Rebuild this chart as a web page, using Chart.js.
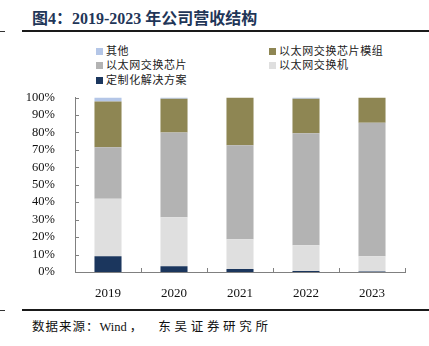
<!DOCTYPE html>
<html>
<head>
<meta charset="utf-8">
<script src="https://cdn.jsdelivr.net/npm/chart.js@4.4.1/dist/chart.umd.min.js"></script>
<style>
  html, body { margin: 0; padding: 0; background: #fff; }
  body { width: 429px; height: 346px; position: relative; overflow: hidden; }
  .title {
    position: absolute; left: 32px; top: 5px;
    font: bold 16px "Liberation Serif", "Noto Sans CJK SC", serif;
    color: #1f3658; white-space: nowrap;
  }
  .rule { position: absolute; left: 22px; right: 0; height: 2px; background: #1a1a1a; }
  .dash { position: absolute; left: 0; width: 5px; height: 1px; background: #333; }
  .source {
    position: absolute; left: 32px; top: 316px;
    font: 12.5px "Liberation Serif", "Noto Sans CJK SC", serif;
    letter-spacing: 1px; color: #111; white-space: nowrap;
  }
  .source .en { letter-spacing: 0; margin: 0 3px 0 0; }
  .source .comma { letter-spacing: 0; margin-right: 16px; }
  .source .wide { letter-spacing: 3.7px; }
  #legend { position: absolute; left: 0; top: 0; }
  .item {
    position: absolute; font: 11px "Noto Sans CJK SC", sans-serif;
    letter-spacing: 0.6px; color: #222; white-space: nowrap; line-height: 14px;
  }
  .item i { display: inline-block; width: 7px; height: 7px; margin-right: 3px; vertical-align: 0px; }
  #wrap { position: absolute; left: 0; top: 78px; width: 420px; height: 222px; }
</style>
</head>
<body>
<div class="title">图4：2019-2023 年公司营收结构</div>
<div class="dash" style="top:31px"></div>
<div class="rule" style="top:30px"></div>
<div id="legend"></div>
<div id="wrap"><canvas id="chart"></canvas></div>
<div class="dash" style="top:310px"></div>
<div class="rule" style="top:309px"></div>
<div class="source">数据来源：<span class="en">Wind</span><span class="comma">，</span><span class="wide">东吴证券研究所</span></div>

<script>
const years = ['2019', '2020', '2021', '2022', '2023'];
const solution = [9.0, 3.3, 1.7, 0.6, 0.3];
const switches = [33.0, 28.1, 17.1, 14.7, 8.7];
const chips = [29.5, 48.6, 53.8, 64.2, 76.6];
const modules = [26.2, 19.3, 27.4, 19.8, 14.4];
const others = [2.3, 0.7, 0.0, 0.7, 0.0];
const yTicks = [0, 10, 20, 30, 40, 50, 60, 70, 80, 90, 100];

const series = [
  { label: '定制化解决方案', data: solution, color: '#1b365d' },
  { label: '以太网交换机', data: switches, color: '#dfdfdf' },
  { label: '以太网交换芯片', data: chips, color: '#b3b3b3' },
  { label: '以太网交换芯片模组', data: modules, color: '#8e8653' },
  { label: '其他', data: others, color: '#b4c6e7' }
];

// legend: two columns, top of stack first
const legendPos = {
  '其他': [96, 43],
  '以太网交换芯片模组': [269, 43],
  '以太网交换芯片': [96, 57],
  '以太网交换机': [269, 57],
  '定制化解决方案': [96, 72]
};
const legend = document.getElementById('legend');
series.forEach(s => {
  const el = document.createElement('div');
  el.className = 'item';
  el.style.left = legendPos[s.label][0] + 'px';
  el.style.top = legendPos[s.label][1] + 'px';
  el.innerHTML = '<i style="background:' + s.color + '"></i>' + s.label;
  legend.appendChild(el);
});

// inward tick marks on both axes
const innerTicks = {
  id: 'innerTicks',
  afterDraw(chart) {
    const { ctx, chartArea: a, scales: { y } } = chart;
    ctx.save();
    ctx.strokeStyle = '#808080';
    ctx.lineWidth = 1;
    ctx.beginPath();
    yTicks.forEach(v => {
      const py = Math.round(y.getPixelForValue(v)) + 0.5;
      ctx.moveTo(a.left, py);
      ctx.lineTo(a.left + 4, py);
    });
    for (let i = 0; i <= years.length; i++) {
      const px = Math.round(a.left + (a.right - a.left) * i / years.length) + 0.5;
      ctx.moveTo(px, a.bottom);
      ctx.lineTo(px, a.bottom - 4);
    }
    ctx.stroke();
    ctx.restore();
  }
};

new Chart(document.getElementById('chart'), {
  type: 'bar',
  data: {
    labels: years,
    datasets: series.map(s => ({
      label: s.label,
      data: s.data,
      backgroundColor: s.color,
      borderWidth: 0,
      barPercentage: 0.41,
      categoryPercentage: 1
    }))
  },
  options: {
    responsive: true,
    maintainAspectRatio: false,
    animation: false,
    layout: { padding: { top: 0, right: 15, left: 0, bottom: 0 } },
    plugins: { legend: { display: false }, tooltip: { enabled: false } },
    scales: {
      x: {
        stacked: true,
        grid: { display: false },
        border: { color: '#808080' },
        ticks: {
          color: '#111',
          padding: 6,
          font: { family: "'Liberation Serif', serif", size: 13 }
        },
        afterFit(scale) { scale.height = 28; }
      },
      y: {
        stacked: true,
        min: 0,
        max: 100,
        grid: { display: false },
        border: { color: '#808080' },
        ticks: {
          stepSize: 10,
          autoSkip: false,
          color: '#111',
          padding: 12,
          font: { family: "'Liberation Serif', serif", size: 12.5 },
          callback: v => v + '%'
        },
        afterFit(scale) { scale.width = 75; }
      }
    }
  },
  plugins: [innerTicks]
});
</script>
</body>
</html>
